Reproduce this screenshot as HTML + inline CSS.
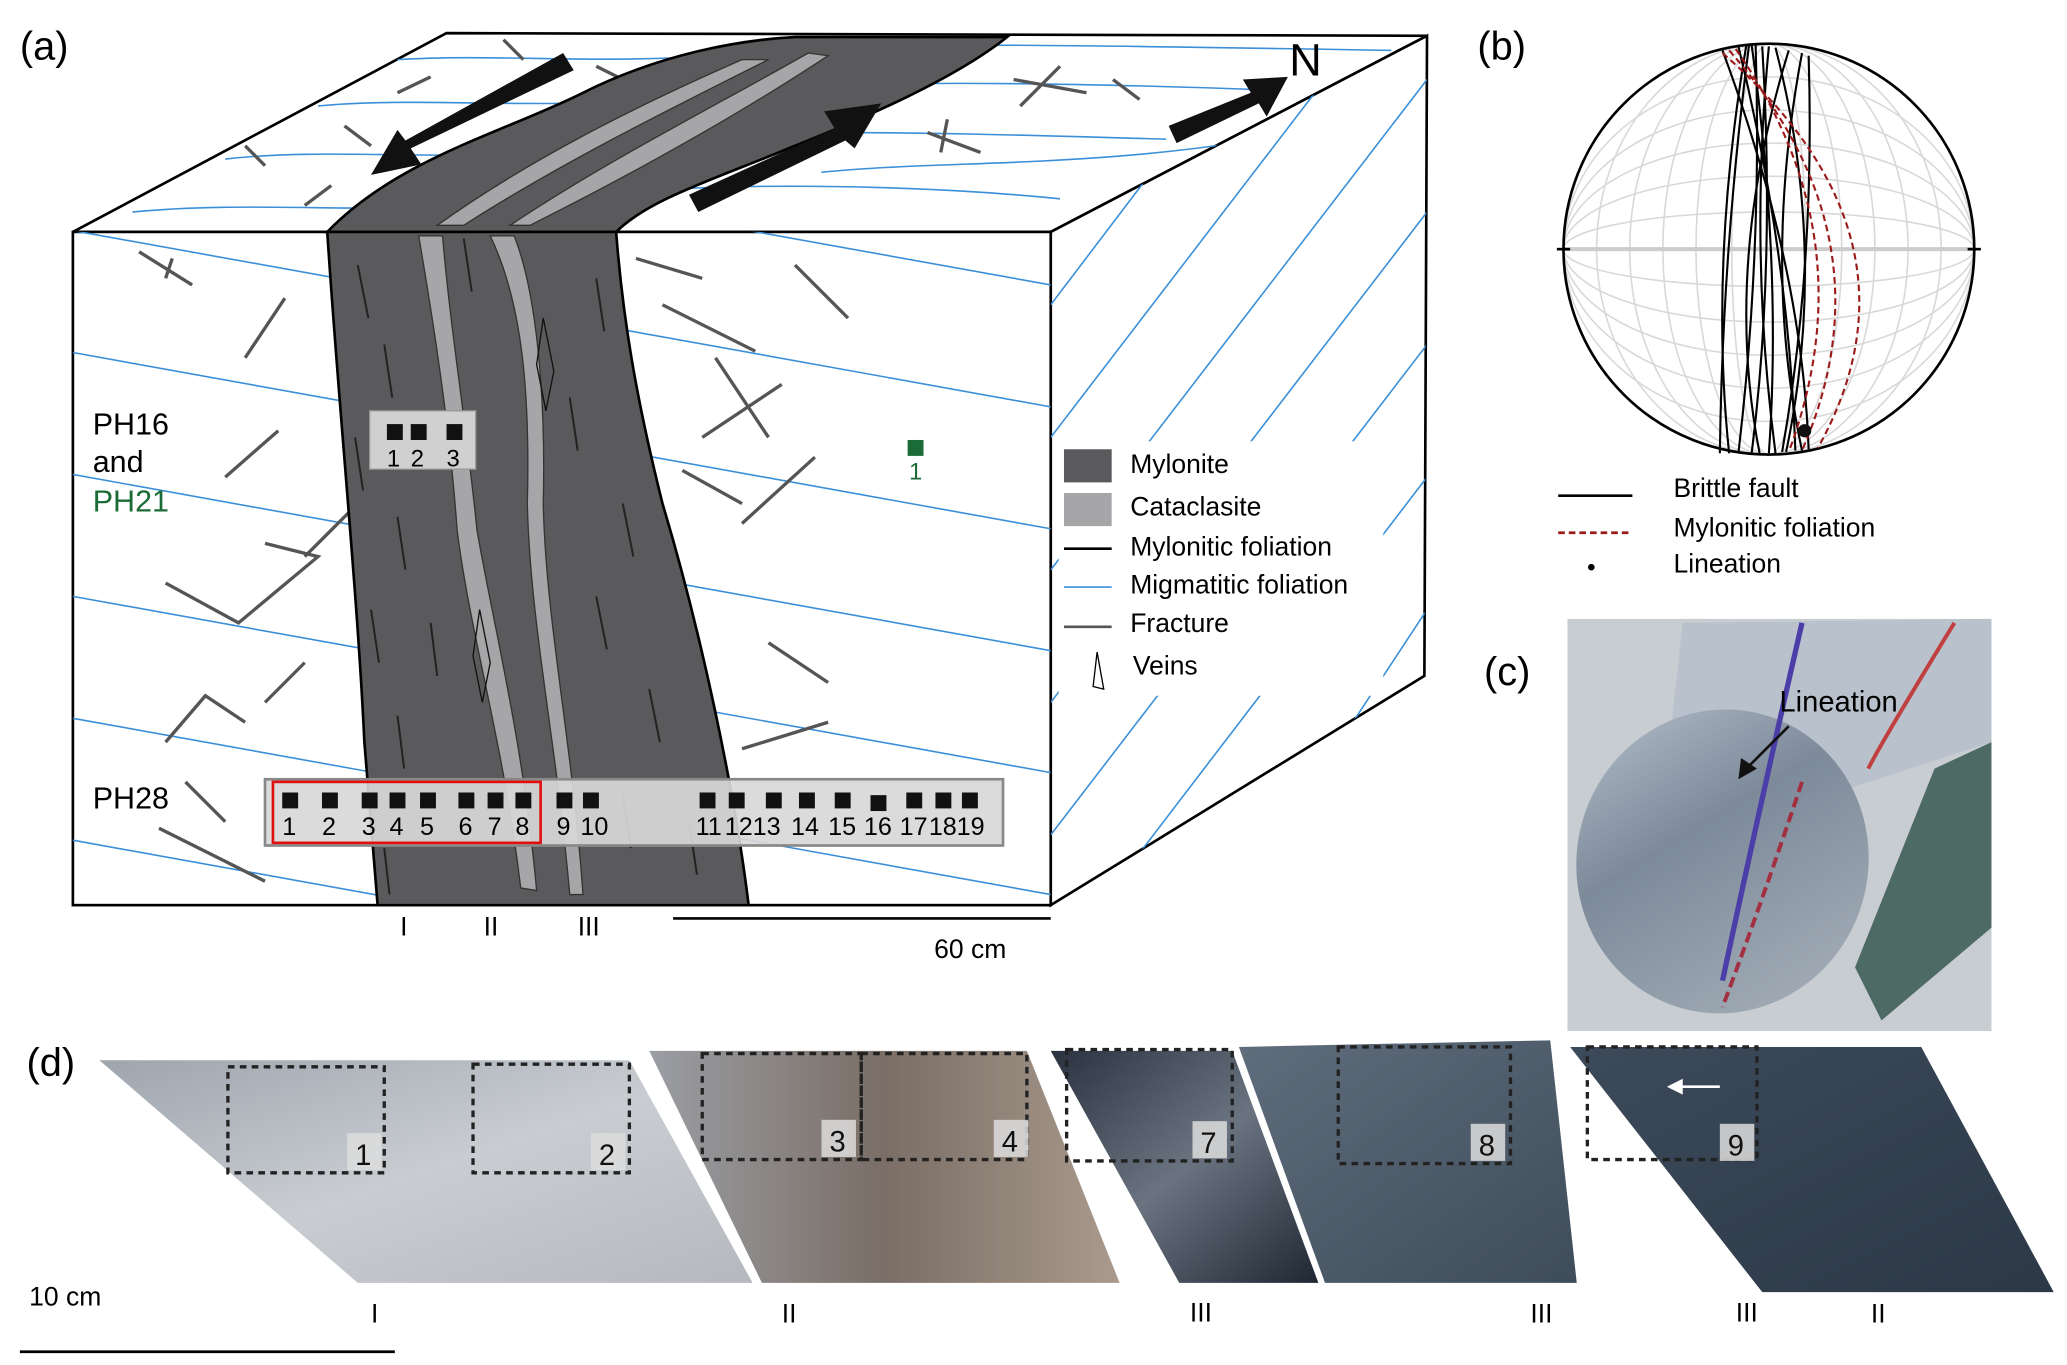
<!DOCTYPE html>
<html><head><meta charset="utf-8"><style>
html,body{margin:0;padding:0;background:#fff;}
svg{display:block;}
text{font-family:"Liberation Sans",Arial,sans-serif;}
</style></head><body>
<svg width="2067" height="1365" viewBox="0 0 1560 1030" preserveAspectRatio="none" xmlns="http://www.w3.org/2000/svg">
<defs>
<clipPath id="front"><rect x="55" y="175" width="738" height="508"/></clipPath>
<clipPath id="right"><polygon points="793,175 1077,27 1075,510 793,683"/></clipPath>
<clipPath id="top"><polygon points="55,175 337,25 1077,27 793,175"/></clipPath>
<linearGradient id="g1" x1="0" y1="0" x2="1" y2="1"><stop offset="0" stop-color="#9ea5ad"/><stop offset="0.5" stop-color="#c9cdd2"/><stop offset="1" stop-color="#b5b9be"/></linearGradient>
<linearGradient id="g2" x1="0" y1="0" x2="1" y2="0"><stop offset="0" stop-color="#9b9ea4"/><stop offset="0.5" stop-color="#7a6e66"/><stop offset="1" stop-color="#a99a8c"/></linearGradient>
<linearGradient id="g3" x1="0" y1="0" x2="1" y2="1"><stop offset="0" stop-color="#2a3240"/><stop offset="0.5" stop-color="#6a7380"/><stop offset="1" stop-color="#1f2733"/></linearGradient>
<linearGradient id="g4" x1="0" y1="0" x2="1" y2="1"><stop offset="0" stop-color="#5f6d7c"/><stop offset="1" stop-color="#3f4c5a"/></linearGradient>
<linearGradient id="g5" x1="0" y1="0" x2="1" y2="1"><stop offset="0" stop-color="#3c4a5a"/><stop offset="1" stop-color="#2c3846"/></linearGradient>
<linearGradient id="gc" x1="0" y1="0" x2="1" y2="1"><stop offset="0" stop-color="#b6c0cc"/><stop offset="0.4" stop-color="#7d8a9a"/><stop offset="1" stop-color="#a9b3bc"/></linearGradient>
</defs>

<text x="15" y="45" font-size="30">(a)</text>
<text x="1115" y="45" font-size="30">(b)</text>
<text x="1120" y="517" font-size="30">(c)</text>
<text x="20" y="812" font-size="30">(d)</text>

<polygon points="55,175 337,25 1077,27 793,175" fill="#fff" stroke="#000" stroke-width="2"/>
<polygon points="793,175 1077,27 1075,510 793,683" fill="#fff" stroke="#000" stroke-width="2"/>
<rect x="55" y="175" width="738" height="508" fill="#fff" stroke="#000" stroke-width="2"/>

<g clip-path="url(#front)" stroke="#3a8fd8" stroke-width="1.2">
<line x1="55" y1="82" x2="793" y2="215"/>
<line x1="55" y1="174" x2="793" y2="307"/>
<line x1="55" y1="266" x2="793" y2="399"/>
<line x1="55" y1="358" x2="793" y2="491"/>
<line x1="55" y1="450" x2="793" y2="583"/>
<line x1="55" y1="542" x2="793" y2="675"/>
<line x1="55" y1="634" x2="793" y2="767"/>
</g>
<g clip-path="url(#right)" stroke="#3a8fd8" stroke-width="1.2">
<line x1="793" y1="330" x2="1000" y2="60"/>
<line x1="793" y1="430" x2="1077" y2="60"/>
<line x1="793" y1="530" x2="1077" y2="160"/>
<line x1="793" y1="630" x2="1077" y2="260"/>
<line x1="830" y1="683" x2="1077" y2="360"/>
<line x1="930" y1="683" x2="1077" y2="460"/>
<line x1="793" y1="230" x2="960" y2="10"/>
</g>
<g clip-path="url(#top)" stroke="#3a8fd8" stroke-width="1.2" fill="none">
<path d="M100,160 C200,150 300,165 420,150 S700,140 800,150"/>
<path d="M170,120 C260,110 350,125 450,110 S700,100 880,105"/>
<path d="M240,80 C320,72 420,85 520,72 S800,62 960,68"/>
<path d="M300,45 C380,40 460,50 560,40 S850,35 1050,38"/>
<path d="M620,130 C720,120 830,128 980,100"/>
</g>

<g stroke="#555" stroke-width="2.5" fill="none">
<line x1="185" y1="270" x2="215" y2="225"/>
<line x1="170" y1="360" x2="210" y2="325"/>
<line x1="230" y1="420" x2="270" y2="380"/>
<polyline points="125,440 180,470 240,420 200,410"/>
<line x1="200" y1="530" x2="230" y2="500"/>
<polyline points="125,560 155,525 185,545"/>
<line x1="120" y1="625" x2="200" y2="665"/>
<line x1="140" y1="590" x2="170" y2="620"/>
<line x1="105" y1="190" x2="145" y2="215"/>
<line x1="130" y1="195" x2="125" y2="210"/>
<line x1="500" y1="230" x2="570" y2="265"/>
<line x1="480" y1="195" x2="530" y2="210"/>
<line x1="540" y1="270" x2="580" y2="330"/>
<line x1="530" y1="330" x2="590" y2="290"/>
<line x1="515" y1="355" x2="560" y2="380"/>
<line x1="560" y1="395" x2="615" y2="345"/>
<line x1="600" y1="200" x2="640" y2="240"/>
<line x1="580" y1="485" x2="625" y2="515"/>
<line x1="560" y1="565" x2="625" y2="545"/>
<line x1="260" y1="95" x2="280" y2="110"/>
<line x1="300" y1="70" x2="325" y2="58"/>
<line x1="380" y1="30" x2="395" y2="45"/>
<line x1="770" y1="80" x2="800" y2="50"/>
<line x1="765" y1="60" x2="820" y2="70"/>
<line x1="700" y1="100" x2="740" y2="115"/>
<line x1="715" y1="90" x2="710" y2="115"/>
<line x1="840" y1="60" x2="860" y2="75"/>
<line x1="620" y1="100" x2="640" y2="80"/>
<line x1="230" y1="155" x2="250" y2="140"/>
<line x1="185" y1="110" x2="200" y2="125"/>
<line x1="450" y1="50" x2="470" y2="60"/>
</g>

<path d="M247,175 C300,120 380,100 440,70 C500,40 560,30 600,28 L760,28 C720,60 650,90 600,110 C540,135 490,150 465,175 Z" fill="#5a5a5c" stroke="#000" stroke-width="2"/>
<path d="M247,175 C255,300 270,450 275,560 C280,620 283,660 285,683 L565,683 C555,600 530,480 500,380 C480,300 470,240 465,175 Z" fill="#5a5a5c" stroke="#000" stroke-width="2"/>
<path d="M316,178 C330,260 340,330 345,400 C355,480 380,560 393,670 L405,672 C395,560 372,470 360,400 C352,320 340,250 334,178 Z" fill="#a6a6a8" stroke="#333" stroke-width="1"/>
<path d="M370,178 C395,230 400,300 398,380 C400,470 420,560 430,675 L440,675 C432,560 412,470 410,380 C412,300 405,220 388,178 Z" fill="#a6a6a8" stroke="#333" stroke-width="1"/>
<path d="M330,170 C400,120 480,80 560,45 L580,45 C500,85 420,125 350,170 Z" fill="#a6a6a8" stroke="#333"/>
<path d="M385,170 C460,120 540,80 610,40 L625,42 C560,85 480,130 400,170 Z" fill="#a6a6a8" stroke="#333"/>
<g stroke="#222" stroke-width="1.5">
<line x1="270" y1="200" x2="278" y2="240"/><line x1="290" y1="260" x2="296" y2="300"/>
<line x1="268" y1="330" x2="274" y2="370"/><line x1="300" y1="390" x2="306" y2="430"/>
<line x1="280" y1="460" x2="286" y2="500"/><line x1="300" y1="540" x2="305" y2="580"/>
<line x1="290" y1="640" x2="294" y2="675"/><line x1="450" y1="210" x2="456" y2="250"/>
<line x1="430" y1="300" x2="436" y2="340"/><line x1="470" y1="380" x2="478" y2="420"/>
<line x1="450" y1="450" x2="458" y2="490"/><line x1="490" y1="520" x2="498" y2="560"/>
<line x1="470" y1="600" x2="476" y2="640"/><line x1="520" y1="620" x2="526" y2="660"/>
<line x1="350" y1="180" x2="356" y2="220"/><line x1="325" y1="470" x2="330" y2="510"/>
</g>
<polygon points="410,240 418,280 412,310 405,275" fill="none" stroke="#111"/>
<polygon points="362,460 370,500 364,530 357,495" fill="none" stroke="#111"/>

<polygon points="425,40 433,53 310,112 318,124 280,132 300,98 306,106" fill="#111"/>
<polygon points="527,160 520,147 630,97 622,84 665,78 645,112 638,106" fill="#111"/>
<polygon points="882,95 888,108 950,78 956,88 972,58 938,60 944,70" fill="#111"/>
<text x="973" y="57" font-size="34">N</text>

<rect x="279" y="310" width="80" height="44" fill="#d0d0d0" stroke="#999"/>
<g fill="#111"><rect x="292" y="320" width="12" height="12"/><rect x="310" y="320" width="12" height="12"/><rect x="337" y="320" width="12" height="12"/></g>
<g font-size="18"><text x="292" y="352">1</text><text x="310" y="352">2</text><text x="337" y="352">3</text></g>
<rect x="685" y="332" width="12" height="12" fill="#1a6b35"/>
<text x="686" y="362" font-size="18" fill="#1a6b35">1</text>
<text x="70" y="328" font-size="23">PH16</text>
<text x="70" y="356" font-size="23">and</text>
<text x="70" y="386" font-size="23" fill="#1a6b35">PH21</text>
<text x="70" y="610" font-size="23">PH28</text>
<rect x="200" y="588" width="557" height="50" fill="#d8d8d8" fill-opacity="0.92" stroke="#888" stroke-width="2"/>
<rect x="206" y="590" width="202" height="46" fill="none" stroke="#e01010" stroke-width="2"/>
<g fill="#111">
<rect x="213" y="598" width="12" height="12"/><rect x="243" y="598" width="12" height="12"/><rect x="273" y="598" width="12" height="12"/><rect x="294" y="598" width="12" height="12"/><rect x="317" y="598" width="12" height="12"/><rect x="346" y="598" width="12" height="12"/><rect x="368" y="598" width="12" height="12"/><rect x="389" y="598" width="12" height="12"/><rect x="420" y="598" width="12" height="12"/><rect x="440" y="598" width="12" height="12"/>
<rect x="528" y="598" width="12" height="12"/><rect x="550" y="598" width="12" height="12"/><rect x="578" y="598" width="12" height="12"/><rect x="603" y="598" width="12" height="12"/><rect x="630" y="598" width="12" height="12"/><rect x="657" y="600" width="12" height="12"/><rect x="684" y="598" width="12" height="12"/><rect x="706" y="598" width="12" height="12"/><rect x="726" y="598" width="12" height="12"/>
</g>
<g font-size="19">
<text x="213" y="630">1</text><text x="243" y="630">2</text><text x="273" y="630">3</text><text x="294" y="630">4</text><text x="317" y="630">5</text><text x="346" y="630">6</text><text x="368" y="630">7</text><text x="389" y="630">8</text><text x="420" y="630">9</text><text x="438" y="630">10</text>
<text x="525" y="630">11</text><text x="547" y="630">12</text><text x="568" y="630">13</text><text x="597" y="630">14</text><text x="625" y="630">15</text><text x="652" y="630">16</text><text x="679" y="630">17</text><text x="701" y="630">18</text><text x="722" y="630">19</text>
</g>

<text x="302" y="706" font-size="20">I</text><text x="365" y="706" font-size="20">II</text><text x="436" y="706" font-size="20">III</text>
<line x1="508" y1="693" x2="793" y2="693" stroke="#000" stroke-width="2"/>
<text x="705" y="723" font-size="20">60 cm</text>

<rect x="799" y="333" width="245" height="192" fill="#fff"/>
<rect x="803" y="339" width="36" height="25" fill="#5a5a5c"/>
<rect x="803" y="372" width="36" height="25" fill="#a6a6a8"/>
<line x1="803" y1="414" x2="839" y2="414" stroke="#000" stroke-width="2"/>
<line x1="803" y1="443" x2="839" y2="443" stroke="#3a8fd8" stroke-width="1.2"/>
<line x1="803" y1="473" x2="839" y2="473" stroke="#555" stroke-width="2"/>
<polygon points="828,492 833,520 825,518" fill="none" stroke="#000"/>
<g font-size="20"><text x="853" y="357">Mylonite</text><text x="853" y="389">Cataclasite</text><text x="853" y="419">Mylonitic foliation</text><text x="853" y="448">Migmatitic foliation</text><text x="853" y="477">Fracture</text><text x="855" y="509">Veins</text></g>

<g fill="none" stroke="#d8d8d8" stroke-width="1.2">
<ellipse cx="1335" cy="188" rx="130" ry="155"/><ellipse cx="1335" cy="188" rx="105" ry="155"/><ellipse cx="1335" cy="188" rx="80" ry="155"/><ellipse cx="1335" cy="188" rx="55" ry="155"/><ellipse cx="1335" cy="188" rx="28" ry="155"/>
<ellipse cx="1335" cy="188" rx="155" ry="130"/><ellipse cx="1335" cy="188" rx="155" ry="105"/><ellipse cx="1335" cy="188" rx="155" ry="80"/><ellipse cx="1335" cy="188" rx="155" ry="55"/><ellipse cx="1335" cy="188" rx="155" ry="28"/>
</g>
<line x1="1180" y1="188" x2="1490" y2="188" stroke="#ccc" stroke-width="3"/>
<circle cx="1335" cy="188" r="155" fill="none" stroke="#000" stroke-width="2"/>
<line x1="1175" y1="188" x2="1185" y2="188" stroke="#000" stroke-width="2"/><line x1="1485" y1="188" x2="1495" y2="188" stroke="#000" stroke-width="2"/>
<g fill="none" stroke="#000" stroke-width="1.6">
<path d="M1320,34 Q1300,190 1298,342"/><path d="M1318,34 Q1290,200 1305,342"/><path d="M1325,34 Q1330,190 1312,342"/><path d="M1330,35 Q1340,200 1322,342"/>
<path d="M1322,34 Q1345,200 1335,342"/><path d="M1335,35 Q1320,190 1340,342"/><path d="M1340,36 Q1380,190 1348,341"/><path d="M1312,35 Q1350,190 1355,340"/>
<path d="M1350,38 Q1300,200 1328,342"/><path d="M1360,40 Q1330,200 1360,340"/><path d="M1365,42 Q1370,200 1345,341"/><path d="M1300,38 Q1360,200 1365,339"/>
</g>
<g fill="none" stroke="#9b1b1b" stroke-width="1.6" stroke-dasharray="5,3">
<path d="M1305,38 Q1430,180 1360,340"/><path d="M1300,40 Q1460,180 1372,338"/><path d="M1310,37 Q1410,180 1350,341"/>
</g>
<circle cx="1362" cy="325" r="5" fill="#111"/>
<line x1="1176" y1="374" x2="1232" y2="374" stroke="#000" stroke-width="2"/>
<line x1="1176" y1="402" x2="1232" y2="402" stroke="#9b1b1b" stroke-width="2" stroke-dasharray="5,3"/>
<circle cx="1201" cy="428" r="2.5" fill="#000"/>
<g font-size="20"><text x="1263" y="375">Brittle fault</text><text x="1263" y="405">Mylonitic foliation</text><text x="1263" y="432">Lineation</text></g>

<rect x="1183" y="467" width="320" height="311" fill="#c8cdd2"/>
<polygon points="1270,470 1503,467 1503,560 1380,600 1260,560" fill="#b9c2cc"/>
<ellipse cx="1300" cy="650" rx="110" ry="115" fill="url(#gc)" transform="rotate(15 1300 650)"/>
<polygon points="1460,580 1503,560 1503,700 1420,770 1400,730" fill="#4e6a64"/>
<path d="M1360,470 Q1330,600 1300,740" stroke="#4b3ea8" stroke-width="4" fill="none"/>
<path d="M1475,470 Q1420,560 1410,580" stroke="#c04040" stroke-width="3" fill="none"/>
<path d="M1360,590 Q1330,680 1300,760" stroke="#a23040" stroke-width="3" fill="none" stroke-dasharray="8,4"/>
<text x="1343" y="537" font-size="22">Lineation</text>
<line x1="1350" y1="548" x2="1318" y2="580" stroke="#111" stroke-width="2"/>
<polygon points="1312,588 1314,572 1326,580" fill="#111"/>

<polygon points="75,800 475,800 568,968 270,968" fill="url(#g1)"/>
<polygon points="490,793 775,793 845,968 575,968" fill="url(#g2)"/>
<polygon points="793,793 930,793 995,968 890,968" fill="url(#g3)"/>
<polygon points="935,790 1170,785 1190,968 1000,968" fill="url(#g4)"/>
<polygon points="1185,790 1450,790 1550,975 1330,975" fill="url(#g5)"/>
<g fill="none" stroke="#222" stroke-width="2.5" stroke-dasharray="5,4">
<rect x="172" y="805" width="118" height="80"/><rect x="357" y="803" width="118" height="82"/>
<rect x="530" y="795" width="120" height="80"/><rect x="650" y="795" width="125" height="80"/>
<rect x="805" y="792" width="125" height="84"/><rect x="1010" y="790" width="130" height="88"/>
<rect x="1198" y="790" width="128" height="85"/>
</g>
<g fill="#ddd" fill-opacity="0.85"><rect x="262" y="855" width="26" height="28"/><rect x="446" y="855" width="26" height="28"/><rect x="620" y="845" width="26" height="28"/><rect x="750" y="845" width="26" height="28"/><rect x="900" y="846" width="26" height="28"/><rect x="1110" y="848" width="26" height="28"/><rect x="1298" y="848" width="26" height="28"/></g>
<g font-size="22" fill="#111"><text x="268" y="879">1</text><text x="452" y="879">2</text><text x="626" y="869">3</text><text x="756" y="869">4</text><text x="906" y="870">7</text><text x="1116" y="872">8</text><text x="1304" y="872">9</text></g>
<line x1="1298" y1="820" x2="1265" y2="820" stroke="#fff" stroke-width="2"/>
<polygon points="1258,820 1270,814 1270,826" fill="#fff"/>
<g font-size="20"><text x="280" y="998">I</text><text x="590" y="998">II</text><text x="898" y="997">III</text><text x="1155" y="998">III</text><text x="1310" y="997">III</text><text x="1412" y="998">II</text></g>
<text x="22" y="985" font-size="20">10 cm</text>
<line x1="15" y1="1020" x2="298" y2="1020" stroke="#000" stroke-width="2"/>
</svg>
</body></html>
